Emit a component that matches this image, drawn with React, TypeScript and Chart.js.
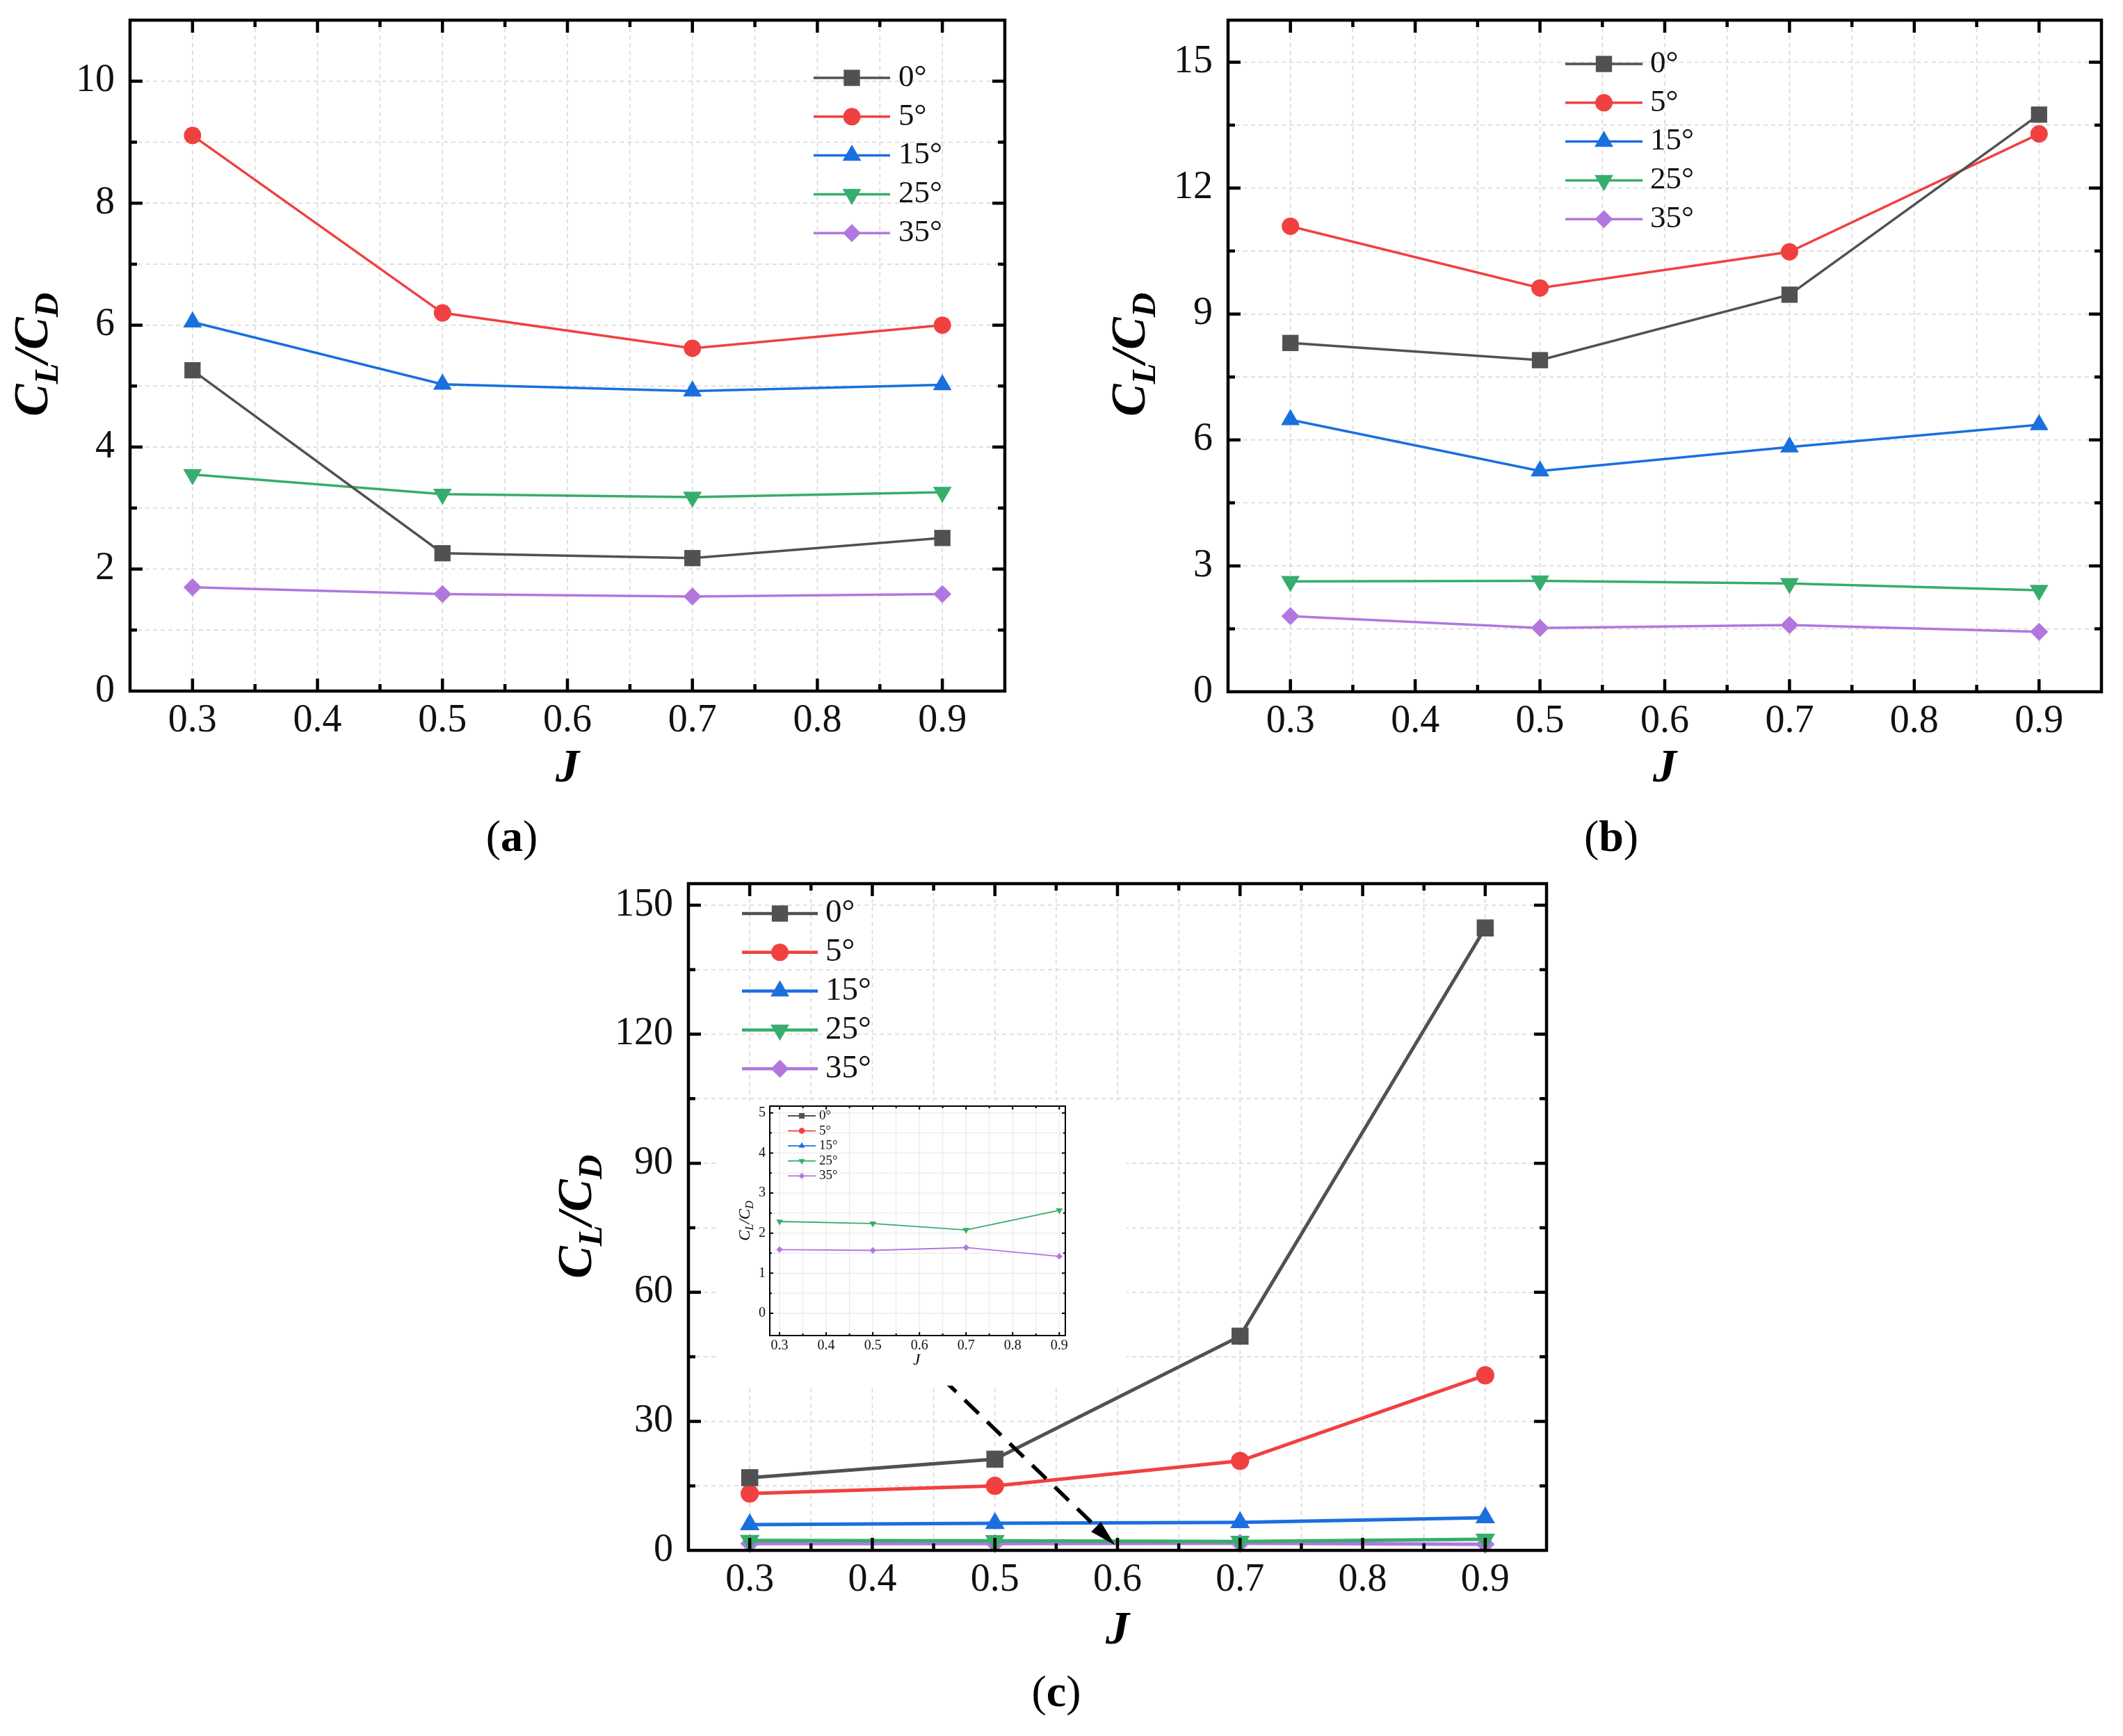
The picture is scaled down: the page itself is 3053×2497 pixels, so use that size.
import { useEffect, useRef } from 'react';
import { Chart, registerables } from 'chart.js';
import { drawPoint } from 'chart.js/helpers';

Chart.register(...registerables);

const SERIF = "'Liberation Serif', 'Times New Roman', Times, serif";

// ---- data ----
const angleLabels = ['0°', '5°', '15°', '25°', '35°'];
const jValues = [0.3, 0.5, 0.7, 0.9];

// (a)
const ratioA0 = [5.26, 2.26, 2.18, 2.51];
const ratioA5 = [9.11, 6.2, 5.62, 6.0];
const ratioA15 = [6.05, 5.03, 4.92, 5.02];
const ratioA25 = [3.55, 3.23, 3.18, 3.26];
const ratioA35 = [1.7, 1.59, 1.55, 1.59];

// (b)
const ratioB0 = [8.31, 7.9, 9.46, 13.75];
const ratioB5 = [11.09, 9.62, 10.48, 13.29];
const ratioB15 = [6.48, 5.26, 5.83, 6.36];
const ratioB25 = [2.63, 2.64, 2.58, 2.42];
const ratioB35 = [1.8, 1.52, 1.59, 1.43];

// (c) and its inset
const ratioC0 = [16.9, 21.2, 49.8, 144.7];
const ratioC5 = [13.2, 15.0, 20.8, 40.7];
const ratioC15 = [6.0, 6.3, 6.5, 7.6];
const ratioC25 = [2.29, 2.24, 2.08, 2.57];
const ratioC35 = [1.59, 1.57, 1.64, 1.42];

// ticks
const jTicks = [0.3, 0.4, 0.5, 0.6, 0.7, 0.8, 0.9];
const jMinorTicks = [0.35, 0.45, 0.55, 0.65, 0.75, 0.85];
const yTicksA = [0, 2, 4, 6, 8, 10];
const yMinorA = [1, 3, 5, 7, 9];
const yTicksB = [0, 3, 6, 9, 12, 15];
const yMinorB = [1.5, 4.5, 7.5, 10.5, 13.5];
const yTicksC = [0, 30, 60, 90, 120, 150];
const yMinorC = [15, 45, 75, 105, 135];
const yTicksInset = [0, 1, 2, 3, 4, 5];
const yMinorInset = [0.5, 1.5, 2.5, 3.5, 4.5];

// dashed pointer in (c), data units [J, CL/CD]
const arrowFrom = [0.457, 40];
const arrowTo = [0.598, 1.2];

// ---- styles ----
const seriesColors = ['#515151', '#F14040', '#1A6FDF', '#37AD6B', '#B177DE'];
const seriesMarkers = [
  { style: 'rect', rotation: 0, r: 16.5 },
  { style: 'circle', rotation: 0, r: 12.5 },
  { style: 'triangle', rotation: 0, r: 15.5 },
  { style: 'triangle', rotation: 180, r: 15.5 },
  { style: 'rectRot', rotation: 0, r: 13 },
];

function drawRatioTitle(ctx: CanvasRenderingContext2D, x: number, y: number, size: number, bold: boolean) {
  const w = bold ? 'bold ' : '';
  const main = `italic ${w}${size}px ${SERIF}`;
  const sub = `italic ${w}${Math.round(size * 0.7)}px ${SERIF}`;
  const parts = [
    { t: 'C', f: main, dy: 0 },
    { t: 'L', f: sub, dy: size * 0.22 },
    { t: '/', f: main, dy: 0 },
    { t: 'C', f: main, dy: 0 },
    { t: 'D', f: sub, dy: size * 0.22 },
  ];
  ctx.save();
  ctx.translate(x, y);
  ctx.rotate(-Math.PI / 2);
  ctx.fillStyle = '#000';
  ctx.textAlign = 'left';
  ctx.textBaseline = 'alphabetic';
  const widths = parts.map((p) => {
    ctx.font = p.f;
    return ctx.measureText(p.t).width;
  });
  let cx = -widths.reduce((s, v) => s + v, 0) / 2;
  parts.forEach((p, i) => {
    ctx.font = p.f;
    ctx.fillText(p.t, cx, p.dy);
    cx += widths[i];
  });
  ctx.restore();
}

function drawTag(ctx: CanvasRenderingContext2D, x: number, y: number, letter: string, size: number) {
  const pieces = [
    { t: '(', f: `${size}px ${SERIF}` },
    { t: letter, f: `bold ${size}px ${SERIF}` },
    { t: ')', f: `${size}px ${SERIF}` },
  ];
  ctx.save();
  ctx.fillStyle = '#000';
  ctx.textBaseline = 'middle';
  ctx.textAlign = 'left';
  const widths = pieces.map((p) => {
    ctx.font = p.f;
    return ctx.measureText(p.t).width;
  });
  let cx = x - widths.reduce((s, v) => s + v, 0) / 2;
  pieces.forEach((p, i) => {
    ctx.font = p.f;
    ctx.fillText(p.t, cx, y);
    cx += widths[i];
  });
  ctx.restore();
}

const panelA = {
  pos: { left: 0, top: 0, width: 1510, height: 1260 },
  area: { left: 187, top: 29, right: 1445, bottom: 994 },
  xAxisHeight: 80,
  xRange: [0.25, 0.95],
  yRange: [0, 11],
  xMajor: jTicks, xMinor: jMinorTicks, yMajor: yTicksA, yMinor: yMinorA,
  series: [ratioA0, ratioA5, ratioA15, ratioA25, ratioA35],
  markerScale: 1, lineWidth: 3.5, clip: false,
  tickFont: 56, padX: 10, padY: 22,
  frame: 4.5, majorLen: 18, minorLen: 10,
  grid: { color: '#d6d6d6', width: 1.5, dash: [6, 5] },
  legend: { x0: 1170, x1: 1280, textX: 1292, y0: 112, dy: 55.8, font: 45, markerScale: 1, lineWidth: 3.5 },
  yTitle: { x: 68, y: 510, size: 70, bold: true },
  xTitle: { x: 816, y: 1106, size: 68, bold: true },
  tag: { x: 736, y: 1207, letter: 'a', size: 64 },
};

const panelB = {
  pos: { left: 1515, top: 0, width: 1536, height: 1260 },
  area: { left: 251, top: 29, right: 1507, bottom: 995 },
  xAxisHeight: 80,
  xRange: [0.25, 0.95],
  yRange: [0, 16],
  xMajor: jTicks, xMinor: jMinorTicks, yMajor: yTicksB, yMinor: yMinorB,
  series: [ratioB0, ratioB5, ratioB15, ratioB25, ratioB35],
  markerScale: 1, lineWidth: 3.5, clip: false,
  tickFont: 56, padX: 10, padY: 22,
  frame: 4.5, majorLen: 18, minorLen: 10,
  grid: { color: '#d6d6d6', width: 1.5, dash: [6, 5] },
  legend: { x0: 736, x1: 847, textX: 858, y0: 92, dy: 55.8, font: 45, markerScale: 1, lineWidth: 3.5 },
  yTitle: { x: 131, y: 510, size: 70, bold: true },
  xTitle: { x: 879, y: 1106, size: 68, bold: true },
  tag: { x: 802, y: 1207, letter: 'b', size: 64 },
};

const panelC = {
  pos: { left: 700, top: 1240, width: 1620, height: 1255 },
  area: { left: 290, top: 31, right: 1524, bottom: 990 },
  xAxisHeight: 80,
  xRange: [0.25, 0.95],
  yRange: [0, 155],
  xMajor: jTicks, xMinor: jMinorTicks, yMajor: yTicksC, yMinor: yMinorC,
  series: [ratioC0, ratioC5, ratioC15, ratioC25, ratioC35],
  markerScale: 1.05, lineWidth: 5, clip: false,
  tickFont: 56, padX: 10, padY: 22,
  frame: 4.5, majorLen: 18, minorLen: 10,
  grid: { color: '#d6d6d6', width: 1.5, dash: [6, 5] },
  legend: { x0: 367, x1: 476, textX: 487, y0: 74, dy: 55.8, font: 47, markerScale: 1, lineWidth: 4.5 },
  yTitle: { x: 150, y: 510, size: 70, bold: true },
  xTitle: { x: 907, y: 1106, size: 68, bold: true },
  tag: { x: 819, y: 1197, letter: 'c', size: 64 },
  arrow: true,
};

const panelInset = {
  pos: { left: 1030, top: 1583, width: 590, height: 410 },
  area: { left: 77, top: 8, right: 502, bottom: 338 },
  xAxisHeight: 30,
  xRange: [0.279, 0.913],
  yRange: [-0.555, 5.17],
  xMajor: jTicks, xMinor: jMinorTicks, yMajor: yTicksInset, yMinor: yMinorInset,
  series: [ratioC0, ratioC5, ratioC15, ratioC25, ratioC35],
  markerScale: 0.36, lineWidth: 1.8, clip: 1,
  tickFont: 20, padX: 3, padY: 6,
  frame: 2, majorLen: 5, minorLen: 3,
  grid: { color: '#e6e6e6', width: 1, dash: [] as number[] },
  legend: { x0: 103, x1: 143, textX: 148, y0: 22, dy: 21.6, font: 19, markerScale: 0.34, lineWidth: 1.8 },
  yTitle: { x: 48, y: 173, size: 23, bold: false },
  xTitle: { x: 288, y: 374, size: 23, bold: false },
  background: '#ffffff',
};

function buildConfig(spec: any): any {
  const { pos, area } = spec;
  const datasets = spec.series.map((vals: number[], i: number) => ({
    label: angleLabels[i],
    data: jValues.map((x, k) => ({ x, y: vals[k] })),
    borderColor: seriesColors[i],
    backgroundColor: seriesColors[i],
    pointBackgroundColor: seriesColors[i],
    pointBorderColor: seriesColors[i],
    pointBorderWidth: 0,
    pointRadius: seriesMarkers[i].r * spec.markerScale,
    pointHoverRadius: seriesMarkers[i].r * spec.markerScale,
    pointStyle: seriesMarkers[i].style,
    pointRotation: seriesMarkers[i].rotation,
    borderWidth: spec.lineWidth,
    tension: 0,
    fill: false,
    clip: spec.clip,
  }));

  const decor = {
    id: 'panelDecor',
    beforeDraw(chart: any) {
      if (!spec.background) return;
      const ctx = chart.ctx;
      ctx.save();
      ctx.fillStyle = spec.background;
      ctx.fillRect(0, 0, chart.width, chart.height);
      ctx.restore();
    },
    beforeDatasetsDraw(chart: any) {
      const ctx = chart.ctx;
      const xs = chart.scales.x;
      const ys = chart.scales.y;
      const ca = chart.chartArea;
      ctx.save();
      ctx.strokeStyle = spec.grid.color;
      ctx.lineWidth = spec.grid.width;
      ctx.setLineDash(spec.grid.dash);
      [...spec.xMajor, ...spec.xMinor].forEach((v: number) => {
        const px = xs.getPixelForValue(v);
        ctx.beginPath();
        ctx.moveTo(px, ca.top);
        ctx.lineTo(px, ca.bottom);
        ctx.stroke();
      });
      [...spec.yMajor, ...spec.yMinor].forEach((v: number) => {
        if (v <= spec.yRange[0] || v >= spec.yRange[1]) return;
        const py = ys.getPixelForValue(v);
        ctx.beginPath();
        ctx.moveTo(ca.left, py);
        ctx.lineTo(ca.right, py);
        ctx.stroke();
      });
      ctx.restore();
    },
    afterDatasetsDraw(chart: any) {
      const ctx = chart.ctx;
      const xs = chart.scales.x;
      const ys = chart.scales.y;
      const ca = chart.chartArea;
      ctx.save();
      ctx.strokeStyle = '#000';
      ctx.lineWidth = spec.frame;
      ctx.setLineDash([]);
      ctx.lineCap = 'butt';
      const tick = (vals: number[], len: number) => {
        vals.forEach((v) => {
          const px = xs.getPixelForValue(v);
          ctx.beginPath();
          ctx.moveTo(px, ca.bottom);
          ctx.lineTo(px, ca.bottom - len);
          ctx.moveTo(px, ca.top);
          ctx.lineTo(px, ca.top + len);
          ctx.stroke();
        });
      };
      const tickY = (vals: number[], len: number) => {
        vals.forEach((v) => {
          if (v <= spec.yRange[0] || v >= spec.yRange[1]) return;
          const py = ys.getPixelForValue(v);
          ctx.beginPath();
          ctx.moveTo(ca.left, py);
          ctx.lineTo(ca.left + len, py);
          ctx.moveTo(ca.right, py);
          ctx.lineTo(ca.right - len, py);
          ctx.stroke();
        });
      };
      tick(spec.xMajor, spec.majorLen);
      tick(spec.xMinor, spec.minorLen);
      tickY(spec.yMajor, spec.majorLen);
      tickY(spec.yMinor, spec.minorLen);
      ctx.strokeRect(ca.left, ca.top, ca.right - ca.left, ca.bottom - ca.top);

      if (spec.arrow) {
        const x1 = xs.getPixelForValue(arrowFrom[0]);
        const y1 = ys.getPixelForValue(arrowFrom[1]);
        const x2 = xs.getPixelForValue(arrowTo[0]);
        const y2 = ys.getPixelForValue(arrowTo[1]);
        const ang = Math.atan2(y2 - y1, x2 - x1);
        const head = 38;
        const half = 10;
        const bx = x2 - Math.cos(ang) * head;
        const by = y2 - Math.sin(ang) * head;
        ctx.lineWidth = 5.5;
        ctx.setLineDash([28, 17]);
        ctx.beginPath();
        ctx.moveTo(x1, y1);
        ctx.lineTo(bx, by);
        ctx.stroke();
        ctx.setLineDash([]);
        ctx.fillStyle = '#000';
        ctx.beginPath();
        ctx.moveTo(x2, y2);
        ctx.lineTo(bx + Math.sin(ang) * half, by - Math.cos(ang) * half);
        ctx.lineTo(bx - Math.sin(ang) * half, by + Math.cos(ang) * half);
        ctx.closePath();
        ctx.fill();
      }
      ctx.restore();
    },
    afterDraw(chart: any) {
      const ctx = chart.ctx;
      const lg = spec.legend;
      ctx.save();
      spec.series.forEach((_: number[], i: number) => {
        const y = lg.y0 + i * lg.dy;
        ctx.strokeStyle = seriesColors[i];
        ctx.lineWidth = lg.lineWidth;
        ctx.beginPath();
        ctx.moveTo(lg.x0, y);
        ctx.lineTo(lg.x1, y);
        ctx.stroke();
        ctx.fillStyle = seriesColors[i];
        const m = seriesMarkers[i];
        drawPoint(ctx, { pointStyle: m.style, radius: m.r * lg.markerScale, rotation: m.rotation, borderWidth: 0 } as any, (lg.x0 + lg.x1) / 2, y);
        ctx.fillStyle = '#111';
        ctx.font = `${lg.font}px ${SERIF}`;
        ctx.textAlign = 'left';
        ctx.textBaseline = 'middle';
        ctx.fillText(angleLabels[i], lg.textX, y);
      });
      ctx.restore();

      drawRatioTitle(ctx, spec.yTitle.x, spec.yTitle.y, spec.yTitle.size, spec.yTitle.bold);

      ctx.save();
      ctx.fillStyle = '#000';
      ctx.font = `italic ${spec.xTitle.bold ? 'bold ' : ''}${spec.xTitle.size}px ${SERIF}`;
      ctx.textAlign = 'center';
      ctx.textBaseline = 'middle';
      ctx.fillText('J', spec.xTitle.x, spec.xTitle.y);
      ctx.restore();

      if (spec.tag) drawTag(ctx, spec.tag.x, spec.tag.y, spec.tag.letter, spec.tag.size);
    },
  };

  return {
    type: 'line',
    data: { datasets },
    options: {
      responsive: false,
      animation: false,
      devicePixelRatio: 1,
      events: [],
      layout: {
        padding: {
          left: 0,
          top: area.top,
          right: pos.width - area.right,
          bottom: pos.height - area.bottom - spec.xAxisHeight,
        },
      },
      plugins: {
        legend: { display: false },
        tooltip: { enabled: false },
        title: { display: false },
      },
      scales: {
        x: {
          type: 'linear',
          min: spec.xRange[0],
          max: spec.xRange[1],
          grid: { display: false, drawTicks: false },
          border: { display: false },
          ticks: {
            autoSkip: false,
            maxRotation: 0,
            padding: spec.padX,
            color: '#111',
            font: { family: SERIF, size: spec.tickFont },
            callback: (v: any) => Number(v).toFixed(1),
          },
          afterBuildTicks: (s: any) => {
            s.ticks = spec.xMajor.map((value: number) => ({ value }));
          },
          afterFit: (s: any) => {
            s.height = spec.xAxisHeight;
            s.paddingLeft = 0;
            s.paddingRight = 0;
          },
        },
        y: {
          type: 'linear',
          min: spec.yRange[0],
          max: spec.yRange[1],
          grid: { display: false, drawTicks: false },
          border: { display: false },
          ticks: {
            autoSkip: false,
            padding: spec.padY,
            color: '#111',
            font: { family: SERIF, size: spec.tickFont },
            callback: (v: any) => String(v),
          },
          afterBuildTicks: (s: any) => {
            s.ticks = spec.yMajor.map((value: number) => ({ value }));
          },
          afterFit: (s: any) => {
            s.width = area.left;
            s.paddingTop = 0;
            s.paddingBottom = 0;
          },
        },
      },
    },
    plugins: [decor],
  };
}

function Panel({ spec }: { spec: any }) {
  const canvasRef = useRef<HTMLCanvasElement | null>(null);

  useEffect(() => {
    if (!canvasRef.current) return;
    const chart = new Chart(canvasRef.current, buildConfig(spec));
    return () => {
      chart.destroy();
    };
  }, [spec]);

  const { left, top, width, height } = spec.pos;
  return (
    <canvas
      ref={canvasRef}
      width={width}
      height={height}
      style={{ position: 'absolute', left, top, width, height }}
    />
  );
}

export default function App() {
  return (
    <div
      style={{
        position: 'absolute',
        left: 0,
        top: 0,
        width: 3053,
        height: 2497,
        background: '#fff',
        overflow: 'hidden',
      }}
    >
      <Panel spec={panelA} />
      <Panel spec={panelB} />
      <Panel spec={panelC} />
      <Panel spec={panelInset} />
    </div>
  );
}
